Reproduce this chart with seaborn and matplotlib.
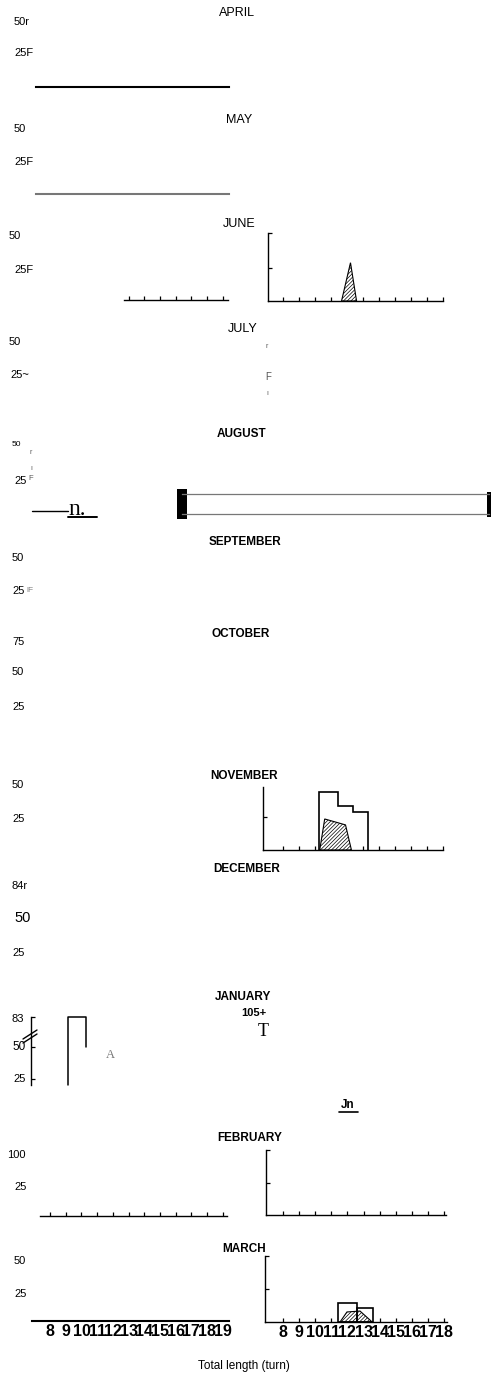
import matplotlib
matplotlib.use("Agg")
import matplotlib.pyplot as plt
from matplotlib.lines import Line2D
import seaborn as sns

# ---- values (x = total length in turns) ----
months = ['APRIL', 'MAY', 'JUNE', 'JULY', 'AUGUST', 'SEPTEMBER', 'OCTOBER',
          'NOVEMBER', 'DECEMBER', 'JANUARY', 'FEBRUARY', 'MARCH']
month_bold = [False, False, False, False, True, True, True,
              True, True, True, True, True]

left_ticks = list(range(8, 20))    # 8..19
right_ticks = list(range(8, 19))   # 8..18

june_shaded_x = [11.66, 12.22, 12.6]
june_shaded_y = [0, 29, 0]

nov_step_x = [10.23, 11.41, 12.35, 13.34]
nov_step_y = [44, 33, 29]
nov_shaded_x = [10.3, 10.61, 11.91, 12.28]
nov_shaded_y = [0, 23.5, 19, 0]

jan_step_x = [9.14, 10.29]
jan_step_y = [83, 50]      # 83 sits above the scale break

mar_bar_left = [11.41, 12.59]
mar_bar_width = [1.18, 1.0]
mar_bar_height = [14.4, 10.6]
mar_shaded_x = [11.54, 11.97, 12.78, 13.4, 13.53]
mar_shaded_y = [0, 7.6, 8.3, 1.5, 0]

# y labels as they appear on the scan
ylabels = [
    ('50r', 14, 22, 8), ('25F', 14, 53, 8),
    ('50', 14, 129, 8), ('25F', 14, 162, 8),
    ('50', 9, 236, 8), ('25F', 14, 270, 8),
    ('50', 9, 342, 8), ('25~', 10, 375, 8),
    ('50', 12, 444, 6), ('25', 14, 481, 8),
    ('50', 12, 558, 8), ('25', 12, 591, 8),
    ('75', 12, 642, 8), ('50', 12, 672, 8), ('25', 12, 707, 8),
    ('50', 12, 785, 8), ('25', 12, 819, 8),
    ('84r', 12, 886, 8), ('50', 14, 918, 10.5), ('25', 12, 953, 8),
    ('83', 12, 1019, 8), ('50', 12, 1047, 8.5), ('25', 13, 1079, 8),
    ('100', 7, 1155, 8), ('25', 14, 1187, 8),
    ('50', 14, 1261, 8), ('25', 14, 1294, 8),
]

sns.set_theme(style="ticks")
plt.rcParams['font.family'] = ['Liberation Sans', 'DejaVu Sans']
plt.rcParams['hatch.linewidth'] = 0.5

W, H = 491, 1376
fig = plt.figure(figsize=(W / 100, H / 100), dpi=100)
fig.patch.set_facecolor('white')


def px_axes(x0, y0, x1, y1):
    ax = fig.add_axes([x0 / W, 1 - y1 / H, (x1 - x0) / W, (y1 - y0) / H])
    ax.patch.set_alpha(0)
    return ax


def ftext(x, y, s, **kw):
    kw.setdefault('va', 'center')
    kw.setdefault('color', 'black')
    fig.text(x / W, 1 - y / H, s, **kw)


def fline(x0, y0, x1, y1, **kw):
    fig.add_artist(Line2D([x0 / W, x1 / W], [1 - y0 / H, 1 - y1 / H],
                          transform=fig.transFigure, **kw))


def lval(px):
    return 6.85 + (px - 32) / 15.7


def rval(px):
    return 6.88 + (px - 265) / 16.1


def style_axes(ax, left=True, lw=1.0):
    for s in ['top', 'right']:
        ax.spines[s].set_visible(False)
    ax.spines['left'].set_visible(left)
    for s in ['left', 'bottom']:
        ax.spines[s].set_linewidth(lw)
        ax.spines[s].set_color('black')
    ax.tick_params(axis='both', direction='in', length=3, width=0.9,
                   colors='black', labelbottom=False, labelleft=False,
                   left=left, bottom=True)


def hatched(ax, x, y):
    ax.fill(x, y, facecolor='white', edgecolor='black', hatch='/////////',
            linewidth=0.8)


# ---- month titles ----
title_pos = [(237, 13), (239, 120), (239, 224), (243, 329), (242, 434),
             (245, 542), (241, 634), (244, 776), (247, 869), (243, 997),
             (250, 1138), (244, 1249)]
for name, bold, (x, y) in zip(months, month_bold, title_pos):
    ftext(x, y, name, ha='center', fontsize=9 if not bold else 8.5,
          fontweight='bold' if bold else 'normal')

for s, x, y, fs in ylabels:
    ftext(x, y, s, ha='left', fontsize=fs)

# ---- April / May baselines ----
for (y, col) in [(87, 'black'), (194, '#777777')]:
    ax = px_axes(36, y - 10, 229, y)
    style_axes(ax, left=False, lw=1.5)
    ax.spines['bottom'].set_color(col)
    ax.tick_params(bottom=False)
    ax.set_xticks([])
    ax.set_yticks([])

# ---- June ----
ax = px_axes(124, 280, 228, 300)
style_axes(ax, left=False)
ax.set_xlim(lval(124), lval(228))
ax.set_xticks([t for t in left_ticks if t >= 13])
ax.set_yticks([])

ax = px_axes(268, 233, 443, 301)
style_axes(ax)
ax.set_xlim(rval(268), rval(443))
ax.set_ylim(0, 51.5)
ax.set_xticks(right_ticks)
ax.set_yticks([25, 51.5])
hatched(ax, june_shaded_x, june_shaded_y)

# ---- July scan fragments ----
ftext(266, 346, 'r', ha='left', fontsize=5, color='#555555')
ftext(265, 377, 'F', ha='left', fontsize=7, color='#555555')
ftext(266, 394, 'ı', ha='left', fontsize=5, color='#555555')

# ---- August fragments ----
ftext(29, 453, 'r', ha='left', fontsize=5, color='#555555')
ftext(30, 469, 'ı', ha='left', fontsize=5, color='#555555')
ftext(28, 478, 'F', ha='left', fontsize=5.5, color='#555555')
fline(32, 511, 68, 511, color='black', lw=1.0)
ftext(68, 515, 'n.', ha='left', va='baseline', fontsize=17,
      family=['Liberation Serif', 'DejaVu Serif'])
fline(68, 517, 97, 517, color='black', lw=1.4)

ax = px_axes(182, 494, 489, 514)
ax.set_xticks([])
ax.set_yticks([])
for s in ['top', 'bottom']:
    ax.spines[s].set_color('#777777')
    ax.spines[s].set_linewidth(0.9)
ax.spines['left'].set_linewidth(7.2)
ax.spines['right'].set_linewidth(3.6)
for s in ['left', 'right']:
    ax.spines[s].set_color('black')

# ---- September fragment ----
ftext(26, 591, 'lF', ha='left', fontsize=6, color='#777777')

# ---- November ----
ax = px_axes(263, 787, 443, 850)
style_axes(ax)
ax.set_xlim(rval(263), rval(443))
ax.set_ylim(0, 47.7)
ax.set_xticks(right_ticks)
ax.set_yticks([25])
hatched(ax, nov_shaded_x, nov_shaded_y)
sx = [nov_step_x[0]]
sy = [0]
for i, v in enumerate(nov_step_y):
    sx += [nov_step_x[i], nov_step_x[i + 1]]
    sy += [v, v]
sx.append(nov_step_x[-1])
sy.append(0)
ax.plot(sx, sy, color='black', lw=1.2, solid_joinstyle='miter')

# ---- January ----
jan_bottom, jan_top = 20.3, 73.4
ax = px_axes(31, 1017, 229, 1085)
style_axes(ax)
ax.spines['bottom'].set_visible(False)
ax.tick_params(bottom=False)
ax.set_xlim(lval(31), lval(229))
ax.set_ylim(jan_bottom, jan_top)
ax.set_xticks([])
ax.set_yticks([25, 50, jan_top])
shown = [min(v, jan_top) for v in jan_step_y]
ax.plot([jan_step_x[0], jan_step_x[0], jan_step_x[1], jan_step_x[1]],
        [jan_bottom, shown[0], shown[0], shown[1]],
        color='black', lw=1.1, clip_on=False)
fline(23, 1039, 37, 1030, color='black', lw=1.0)
fline(23, 1043, 37, 1034, color='black', lw=1.0)

ftext(254, 1013, '105+', ha='center', fontsize=8, fontweight='bold')
ftext(263, 1031, 'T', ha='center', fontsize=13,
      family=['Liberation Serif', 'DejaVu Serif'])
ftext(110, 1055, 'A', ha='center', fontsize=9, color='#777777',
      family=['Liberation Serif', 'DejaVu Serif'])
ftext(348, 1105, 'Jn', ha='center', fontsize=8.5, fontweight='bold')
fline(339, 1112, 358, 1112, color='black', lw=1.2)

# ---- February ----
ax = px_axes(40, 1196, 227, 1216)
style_axes(ax, left=False)
ax.set_xlim(lval(40), lval(227))
ax.set_xticks(left_ticks)
ax.set_yticks([])

ax = px_axes(266, 1150, 446, 1215)
style_axes(ax)
ax.set_xlim(rval(266), rval(446))
ax.set_ylim(0, 100)
ax.set_xticks(right_ticks)
ax.set_yticks([49, 100])

# ---- March ----
ax = px_axes(32, 1301, 229, 1321)
style_axes(ax, left=False, lw=1.5)
ax.set_xlim(lval(32), lval(229))
ax.set_xticks(left_ticks)
ax.set_yticks([])
ax.tick_params(axis='x', length=0, labelbottom=True, pad=2.5)
ax.set_xticklabels([str(t) for t in left_ticks], fontsize=11.5,
                   fontweight='bold')

ax = px_axes(265, 1256, 447, 1322)
style_axes(ax)
ax.set_xlim(rval(265), rval(447))
ax.set_ylim(0, 50)
ax.set_xticks(right_ticks)
ax.set_yticks([25, 50])
ax.tick_params(axis='x', labelbottom=True, pad=2.5)
ax.set_xticklabels([str(t) for t in right_ticks], fontsize=11.5,
                   fontweight='bold')
hatched(ax, mar_shaded_x, mar_shaded_y)
ax.bar(mar_bar_left, mar_bar_height, width=mar_bar_width, align='edge',
       fill=False, edgecolor='black', linewidth=1.2)

ftext(244, 1366, 'Total length (turn)', ha='center', fontsize=8.5)

fig.savefig('out.png', dpi=100, facecolor='white')
